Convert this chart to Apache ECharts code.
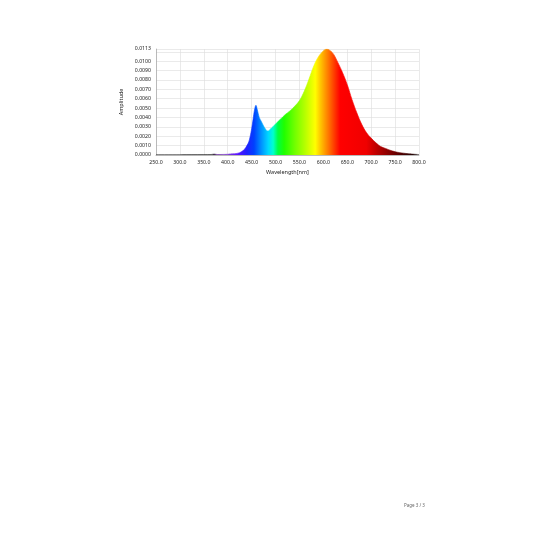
<!DOCTYPE html>
<html>
<head>
<meta charset="utf-8">
<script src="https://cdn.jsdelivr.net/npm/echarts@6.0.0/dist/echarts.min.js"></script>
<style>
  html, body { margin: 0; padding: 0; background: #fff; }
  #drew { width: 536px; height: 536px; }
</style>
</head>
<body>
<div id="drew"></div>
<script>
// spectrum
var wavelengths = [250, 300, 350, 365, 372, 378, 390, 400, 410, 418, 425, 430, 435, 440, 444, 447, 450, 453, 456, 459, 462, 466, 470, 475, 480, 484, 488, 492, 500, 510, 520, 530, 540, 550, 560, 570, 580, 590, 600, 607, 615, 622, 630, 640, 650, 660, 670, 680, 690, 700, 710, 720, 730, 740, 750, 760, 770, 780, 790, 800];
var amplitudes = [0.00003, 0.00003, 0.00004, 0.00005, 0.0001, 0.00005, 0.00006, 0.00008, 0.00012, 0.00016, 0.00025, 0.0004, 0.0006, 0.001, 0.0014, 0.002, 0.0028, 0.0038, 0.0048, 0.0053, 0.0048, 0.004, 0.0036, 0.0031, 0.0027, 0.00255, 0.0027, 0.0029, 0.0033, 0.0038, 0.0043, 0.0047, 0.0052, 0.0058, 0.0068, 0.0081, 0.0095, 0.0105, 0.0111, 0.0113, 0.0111, 0.0107, 0.0099, 0.0088, 0.0075, 0.0059, 0.0045, 0.0033, 0.0024, 0.0018, 0.0013, 0.0009, 0.0007, 0.0005, 0.00035, 0.00025, 0.00018, 0.00012, 0.00008, 0.00005];
var xTicks = [250, 800, 50];      // min, max, step
var yTicks = [0, 0.0113, 0.001];  // min, max, step

// colour of the light at each wavelength
var spectrumColors = [
  [250, '#3a3a3a'], [370, '#3a3a3a'], [380, '#6a2a9a'], [400, '#8040d0'],
  [420, '#5a10ff'], [440, '#2020ff'], [455, '#0040ff'], [470, '#0090ff'],
  [485, '#00d8ff'], [495, '#00ffd0'], [505, '#00ff40'], [518, '#20ff00'],
  [540, '#70ff00'], [560, '#b0ff00'], [583, '#ffff00'], [592, '#ffd000'],
  [602, '#ffa000'], [612, '#ff7000'], [625, '#ff3000'], [635, '#ff0000'],
  [690, '#f00000'], [710, '#c00000'], [740, '#800000'], [770, '#400000'],
  [800, '#101010']
];

var points = wavelengths.map(function (w, i) { return [w, amplitudes[i]]; });
var stops = spectrumColors.map(function (c) {
  return { offset: (c[0] - xTicks[0]) / (xTicks[1] - xTicks[0]), color: c[1] };
});
var grad = new echarts.graphic.LinearGradient(0, 0, 1, 0, stops);

var myChart = echarts.init(document.getElementById('drew'));
var option = {
  backgroundColor: '#fff',
  animation: false,
  textStyle: { fontFamily: 'Noto Sans' },
  grid: { left: 156, right: 117, top: 49, bottom: 381, containLabel: false },
  xAxis: {
    type: 'value',
    min: xTicks[0], max: xTicks[1], interval: xTicks[2],
    name: 'Wavelength[nm]',
    nameLocation: 'middle',
    nameGap: 14,
    nameTextStyle: { fontSize: 5.5, color: '#222' },
    axisLine: { lineStyle: { color: '#999', width: 0.6 } },
    axisTick: { show: false },
    axisLabel: {
      fontSize: 5.2, color: '#222', margin: 5,
      formatter: function (v) { return v.toFixed(1); }
    },
    splitLine: { lineStyle: { color: '#dcdcdc', width: 0.6 } }
  },
  yAxis: {
    type: 'value',
    min: yTicks[0], max: yTicks[1], interval: yTicks[2],
    name: 'Amplitude',
    nameLocation: 'middle',
    nameGap: 32,
    nameRotate: 90,
    nameTextStyle: { fontSize: 5.5, color: '#222' },
    axisLine: { show: true, lineStyle: { color: '#999', width: 0.6 } },
    axisTick: { show: false },
    axisLabel: {
      fontSize: 5.2, color: '#222', margin: 5,
      formatter: function (v) {
        if (Math.abs(v - 0.011) < 1e-9) return '';
        return v.toFixed(4);
      }
    },
    splitLine: { lineStyle: { color: '#dcdcdc', width: 0.6 } }
  },
  series: [{
    type: 'line',
    data: points,
    smooth: 0.4,
    symbol: 'none',
    lineStyle: { width: 0.6, color: grad },
    areaStyle: { color: grad, opacity: 1 }
  }],
  graphic: [{
    type: 'text',
    left: 404, top: 503,
    style: { text: 'Page 3 / 3', fontSize: 4.5, fill: '#666', fontFamily: 'Noto Sans' }
  }]
};
myChart.setOption(option);
</script>
</body>
</html>
